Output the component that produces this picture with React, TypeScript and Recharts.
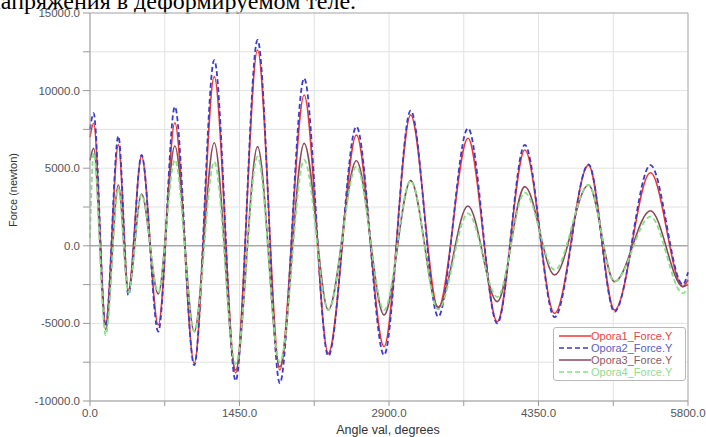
// Force vs angle — four support reactions (Opora1..4), damped oscillation.
import {
  LineChart,
  Line,
  XAxis,
  YAxis,
  CartesianGrid,
  ReferenceLine,
  Legend,
} from "recharts";

// Angle positions of the read-off extrema (degrees).
const ANGLE = [
  0, 35, 152, 275, 372, 500, 662, 823, 1011, 1205, 1413, 1625, 1841, 2077,
  2311, 2584, 2852, 3110, 3377, 3666, 3950, 4217, 4506, 4835, 5087, 5436,
  5750, 5800,
];

const OPORA1 = [
  7000, 7900, -5000, 6500, -2850, 5790, -5100, 7930, -7570, 10900, -8200,
  12620, -8000, 9720, -6930, 7140, -6500, 8430, -4030, 6930, -4890, 6170,
  -4350, 5200, -4140, 4710, -2630, -2200,
];
const OPORA2 = [
  7500, 8540, -5200, 7070, -3170, 5850, -5530, 8960, -7700, 11970, -8700,
  13260, -8850, 10790, -7100, 7680, -7040, 8710, -4570, 7570, -5000, 6500,
  -4600, 5250, -4250, 5200, -2500, -1700,
];
const OPORA3 = [
  5500, 6280, -5400, 3920, -2900, 3340, -3100, 6430, -5530, 6640, -8000,
  6390, -7800, 6600, -4140, 5480, -4460, 4200, -3950, 2560, -3600, 3810,
  -1880, 3920, -2310, 2260, -2630, -2500,
];
const OPORA4 = [
  500, 6000, -5760, 3700, -3000, 3300, -3000, 5530, -5530, 5420, -7600, 5740,
  -7500, 5530, -4140, 5100, -4140, 4200, -4100, 2090, -3300, 3420, -1560,
  3920, -2310, 1880, -3060, -2700,
];

const X_TICKS = [0, 725, 1450, 2175, 2900, 3625, 4350, 5075, 5800];
const Y_TICKS = [
  -10000, -7500, -5000, -2500, 0, 2500, 5000, 7500, 10000, 12500, 15000,
];

const SERIES = [
  { key: "o1", name: "Opora1_Force.Y", color: "#ee3535", text: "#e84545", dash: undefined },
  { key: "o2", name: "Opora2_Force.Y", color: "#3c3ccc", text: "#5560c4", dash: "5 3" },
  { key: "o3", name: "Opora3_Force.Y", color: "#8a4a5c", text: "#8c5a68", dash: undefined },
  { key: "o4", name: "Opora4_Force.Y", color: "#86e086", text: "#8fdc8f", dash: "5 3" },
];

const data = ANGLE.map((a, i) => ({
  angle: a,
  o1: OPORA1[i],
  o2: OPORA2[i],
  o3: OPORA3[i],
  o4: OPORA4[i],
}));

const FONT = "'Liberation Sans', Arial, sans-serif";

function BoxLegend() {
  return (
    <div
      style={{
        border: "1px solid #b8b8b8",
        borderRadius: 3,
        background: "#fff",
        padding: "2px 3px 2px 5px",
        fontFamily: FONT,
        fontSize: 11,
        lineHeight: "12px",
        boxSizing: "border-box",
        width: 133,
      }}
    >
      {SERIES.map((s) => (
        <div key={s.key} style={{ display: "flex", alignItems: "center", whiteSpace: "nowrap" }}>
          <svg width={32} height={8} style={{ flex: "none" }}>
            <line
              x1={0}
              y1={4}
              x2={32}
              y2={4}
              stroke={s.color}
              strokeWidth={1.5}
              strokeDasharray={s.dash}
            />
          </svg>
          <span style={{ color: s.text }}>{s.name}</span>
        </div>
      ))}
    </div>
  );
}

export default function App() {
  return (
    <div
      style={{
        position: "absolute",
        left: 0,
        top: 0,
        width: 706,
        height: 437,
        overflow: "hidden",
        background: "#fff",
      }}
    >
      {/* cropped line of the surrounding document text */}
      <div
        style={{
          position: "absolute",
          left: -12,
          top: -11,
          fontFamily: "'Liberation Serif', 'Times New Roman', serif",
          fontSize: 24,
          lineHeight: 1,
          whiteSpace: "nowrap",
          color: "#000",
        }}
      >
        напряжения в деформируемом теле.
      </div>

      <LineChart
        width={706}
        height={437}
        data={data}
        margin={{ top: 13, right: 18, left: 0, bottom: 0 }}
      >
        <CartesianGrid stroke="#e2e2e2" />
        <XAxis
          dataKey="angle"
          type="number"
          domain={[0, 5800]}
          ticks={X_TICKS}
          interval={0}
          height={36}
          tickFormatter={(v: number) => (v % 1450 === 0 ? v.toFixed(1) : "")}
          tick={{ fontSize: 11.5, fill: "#555", fontFamily: FONT }}
          stroke="#999"
          tickSize={5}
          tickMargin={3}
        />
        <YAxis
          type="number"
          domain={[-10000, 15000]}
          ticks={Y_TICKS}
          interval={0}
          width={90}
          tickFormatter={(v: number) => (v % 5000 === 0 ? v.toFixed(1) : "")}
          tick={{ fontSize: 11.5, fill: "#555", fontFamily: FONT }}
          stroke="#999"
          tickSize={7}
          tickMargin={3}
        />
        <ReferenceLine y={0} stroke="#8c8c8c" strokeWidth={1} />
        <ReferenceLine y={15000} stroke="#b0b0b0" />
        <ReferenceLine x={5800} stroke="#b0b0b0" />
        {SERIES.map((s) => (
          <Line
            key={s.key}
            dataKey={s.key}
            name={s.name}
            type="monotone"
            stroke={s.color}
            strokeWidth={s.dash ? 1.8 : 1.6}
            strokeDasharray={s.dash}
            dot={false}
            isAnimationActive={false}
          />
        ))}
        {/* vertical + centered + middle: Recharts reserves no space for it */}
        <Legend
          layout="vertical"
          align="center"
          verticalAlign="middle"
          content={<BoxLegend />}
          wrapperStyle={{ left: 553, top: 327, width: 133, height: 51 }}
        />
      </LineChart>

      <div
        style={{
          position: "absolute",
          left: 13,
          top: 190,
          transform: "translate(-50%, -50%) rotate(-90deg)",
          fontFamily: FONT,
          fontSize: 11,
          color: "#333",
          whiteSpace: "nowrap",
        }}
      >
        Force (newton)
      </div>
      <div
        style={{
          position: "absolute",
          left: 388,
          top: 430,
          transform: "translate(-50%, -50%)",
          fontFamily: FONT,
          fontSize: 12.5,
          color: "#333",
          whiteSpace: "nowrap",
        }}
      >
        Angle val, degrees
      </div>
    </div>
  );
}
